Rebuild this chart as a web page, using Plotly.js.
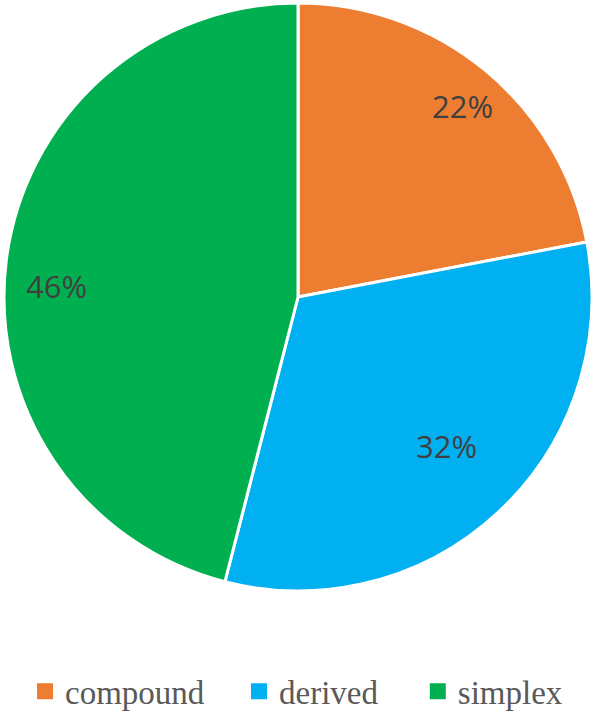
<!DOCTYPE html>
<html>
<head>
<meta charset="utf-8">
<script src="https://cdn.plot.ly/plotly-3.0.1.min.js"></script>
<style>
  html, body { margin: 0; padding: 0; background: #fff; }
  #chart { width: 596px; height: 712px; }
</style>
</head>
<body>
<div id="chart"></div>
<script>
// parts of the whole (percent)
const labels = ['compound', 'derived', 'simplex'];
const values = [22, 32, 46];
const colors = ['#ED7D31', '#00B0F0', '#00B050'];

// label placement (Excel "best fit"): distance from centre as a share of
// the radius, and a small turn (degrees) away from the slice's mid angle
const labelR     = [0.856, 0.716, 0.822];
const labelTurn  = [1.2, -1.7, -4.5];
// legend entry left edges (container fraction)
const legendX  = [0.042, 0.401, 0.701];

const total = values.reduce((s, v) => s + v, 0);

const pie = {
  type: 'pie',
  labels, values,
  sort: false,
  direction: 'clockwise',
  rotation: 0,
  marker: { colors, line: { color: '#ffffff', width: 3 } },
  textinfo: 'none',
  hoverinfo: 'label+percent',
  showlegend: false,
};

// legend entries: one empty scatter trace per slice, each in its own legend
const keys = labels.map((name, i) => ({
  type: 'scatter', mode: 'markers', name,
  x: [null], y: [null],
  marker: { symbol: 'square', size: 16, color: colors[i], line: { width: 0 } },
  legend: i === 0 ? 'legend' : 'legend' + (i + 1),
  hoverinfo: 'skip',
}));

// percentage labels, placed on each slice's mid angle
const W = 590, H = 588, R = Math.min(W, H) / 2;
let cum = 0;
const annotations = values.map((v, i) => {
  const mid = (cum + v / 2) / total * 2 * Math.PI + labelTurn[i] * Math.PI / 180;
  cum += v;
  return {
    xref: 'paper', yref: 'paper',
    xanchor: 'center', yanchor: 'middle',
    x: 0.5 + labelR[i] * R * Math.sin(mid) / W,
    y: 0.5 + labelR[i] * R * Math.cos(mid) / H,
    text: Math.round(v / total * 100) + '%',
    showarrow: false,
    font: { family: 'Open Sans', size: 31, color: '#404040' },
  };
});

const legendBase = {
  orientation: 'h',
  xref: 'container', yref: 'container',
  xanchor: 'left', yanchor: 'middle',
  y: 0.029,
  bgcolor: 'rgba(0,0,0,0)',
  font: { family: 'Liberation Serif', size: 33, color: '#595959' },
};

const layout = {
  width: 596, height: 712,
  paper_bgcolor: '#ffffff',
  plot_bgcolor: '#ffffff',
  margin: { t: 3, b: 121, l: 3, r: 3 },
  showlegend: true,
  xaxis: { visible: false },
  yaxis: { visible: false },
  legend:  { ...legendBase, x: legendX[0] },
  legend2: { ...legendBase, x: legendX[1] },
  legend3: { ...legendBase, x: legendX[2] },
  annotations,
};

Plotly.newPlot('chart', [pie, ...keys], layout, { displayModeBar: false, staticPlot: true });
</script>
</body>
</html>
